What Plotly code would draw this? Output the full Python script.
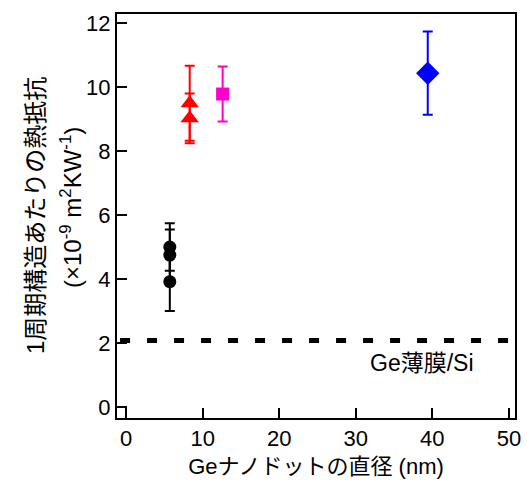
import plotly.graph_objects as go

# Data
circle_x = [5.7, 5.7, 5.7]
circle_y = [5.0, 4.75, 3.92]
circle_err = [0.74, 0.80, 0.92]

tri_x = [8.3, 8.3]
tri_y = [9.49, 9.02]
tri_err = [1.17, 0.78]

sq_x = [12.6]
sq_y = [9.78]
sq_err = [0.86]

dia_x = [39.4]
dia_y = [10.43]
dia_err = [1.3]

film_y = 2.08
film_label = "Ge薄膜/Si"

x_ticks = [0, 10, 20, 30, 40, 50]
y_ticks = [0, 2, 4, 6, 8, 10, 12]

y_title_1 = "1周期構造あたりの熱抵抗"
y_title_2 = "(×10<sup>-9</sup> m<sup>2</sup>KW<sup>-1</sup>)"
x_title = "Geナノドットの直径 (nm)"

FONT = "Liberation Sans, Arial, Noto Sans CJK JP, sans-serif"

fig = go.Figure()

def add_series(x, y, err, color, symbol, size):
    fig.add_trace(go.Scatter(
        x=x, y=y, mode="markers",
        marker=dict(color=color, symbol=symbol, size=size, line=dict(width=0)),
        error_y=dict(type="data", array=err, visible=True, color=color,
                     thickness=2, width=5),
        showlegend=False,
    ))

add_series(circle_x, circle_y, circle_err, "#000000", "circle", 13)
add_series(tri_x, tri_y, tri_err, "#ff0000", "triangle-up", 16)
add_series(sq_x, sq_y, sq_err, "#ff00cc", "square", 13)
add_series(dia_x, dia_y, dia_err, "#0000ff", "diamond", 18)

fig.add_trace(go.Scatter(
    x=[-0.8, 50.8], y=[film_y, film_y], mode="lines",
    line=dict(color="#000000", width=5, dash="10px,17px"),
    showlegend=False,
))

fig.add_annotation(x=38.7, y=1.38, text=film_label, showarrow=False,
                   font=dict(size=23, color="#000000", family=FONT))

fig.add_annotation(xref="paper", yref="paper", x=0, y=0.5, xshift=-82,
                   text=y_title_1, textangle=-90, showarrow=False,
                   xanchor="center", yanchor="middle",
                   font=dict(size=24, color="#000000", family=FONT))
fig.add_annotation(xref="paper", yref="paper", x=0, y=0.5, xshift=-46, yshift=8,
                   text=y_title_2, textangle=-90, showarrow=False,
                   xanchor="center", yanchor="middle",
                   font=dict(size=24, color="#000000", family=FONT))

fig.update_layout(
    width=527, height=490,
    margin=dict(l=117, r=6, t=14, b=72),
    plot_bgcolor="white", paper_bgcolor="white",
    font=dict(family=FONT, size=22, color="#000000"),
    xaxis=dict(
        range=[-1.2, 50.8], tickvals=x_ticks, ticks="inside", ticklen=10,
        tickwidth=2, tickcolor="#000", showline=True, linewidth=2,
        linecolor="#000", mirror=True, showgrid=False, zeroline=False,
        tickfont=dict(size=22),
        title=dict(text=x_title, font=dict(size=22), standoff=8),
    ),
    yaxis=dict(
        range=[-0.34, 12.28], tickvals=y_ticks, ticks="inside", ticklen=10,
        tickwidth=2, tickcolor="#000", showline=True, linewidth=2,
        linecolor="#000", mirror=True, showgrid=False, zeroline=False,
        tickfont=dict(size=22),
    ),
)

fig.write_html("out.html", config={"displayModeBar": False},
               post_script="document.body.style.margin='0';document.body.style.overflow='hidden';")
